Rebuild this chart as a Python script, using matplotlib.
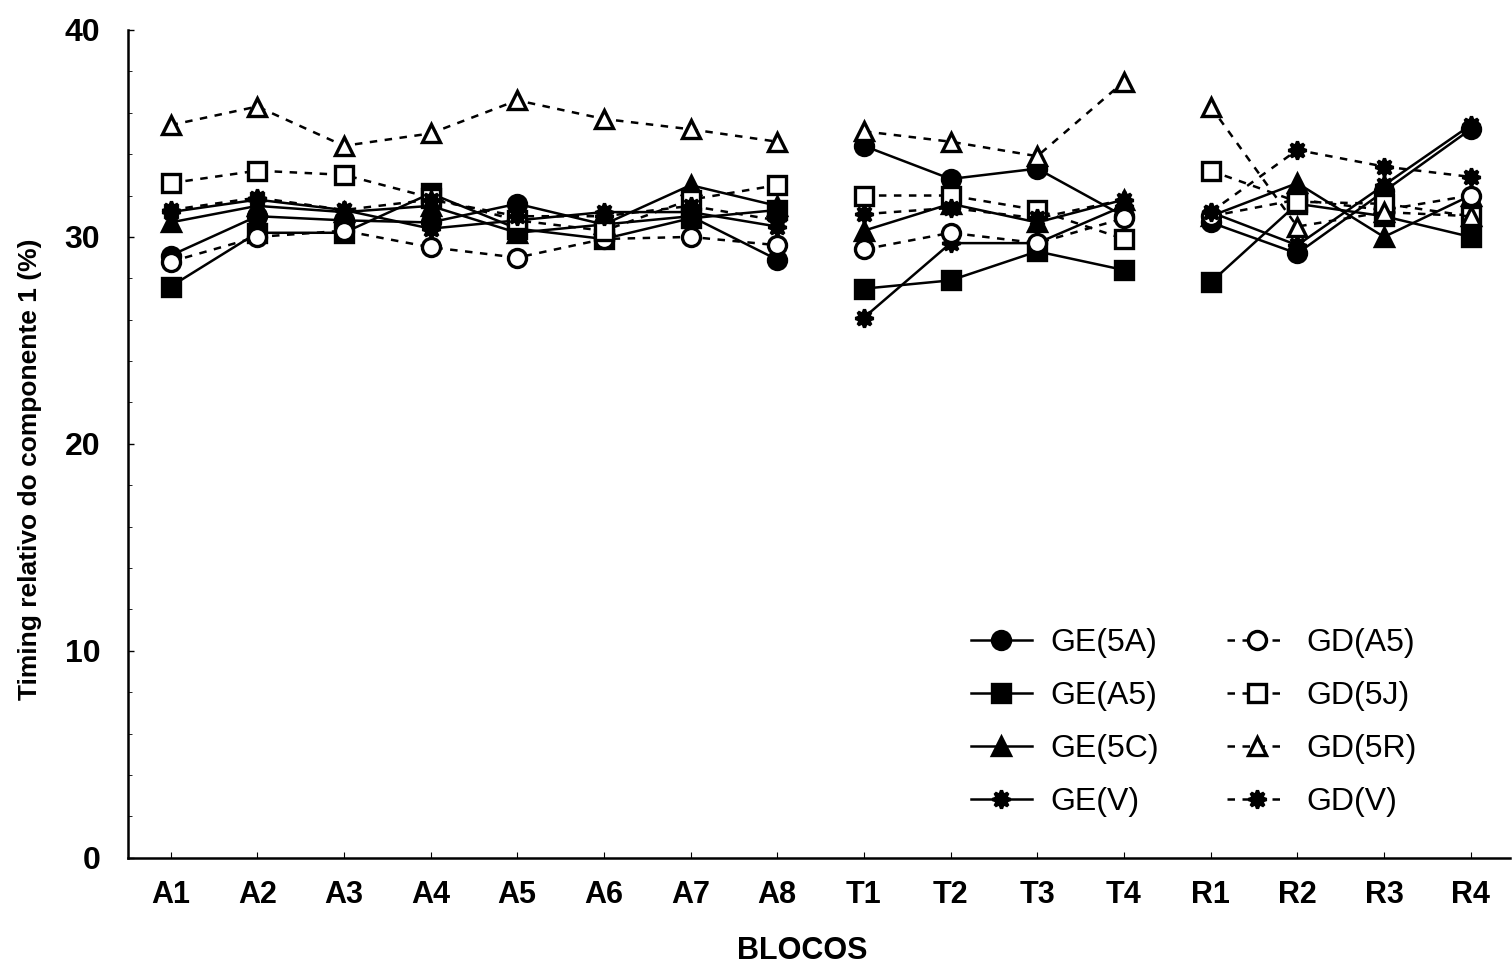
import numpy as np
import matplotlib
matplotlib.use("Agg")
from matplotlib import pyplot as plt

blocos = ['A1','A2','A3','A4','A5','A6','A7','A8',
          'T1','T2','T3','T4','R1','R2','R3','R4']

# series values, A1..A8, T1..T4, R1..R4
ge_5a = [29.1, 31.0, 30.8, 30.7, 31.6, 30.6, 31.0, 28.9,
         34.4, 32.8, 33.3, 31.0, 30.7, 29.2, 32.2, 35.2]
ge_a5 = [27.6, 30.2, 30.2, 32.1, 30.4, 29.9, 30.9, 31.3,
         27.5, 27.9, 29.3, 28.4, 27.8, 31.6, 31.0, 30.0]
ge_5c = [30.7, 31.5, 31.2, 31.5, 30.2, 30.6, 32.5, 31.5,
         30.3, 31.6, 30.7, 31.8, 31.0, 32.6, 30.0, 32.0]
ge_v  = [31.2, 31.8, 31.3, 30.4, 30.8, 31.2, 31.2, 30.5,
         26.1, 29.7, 29.7, 31.5, 31.2, 29.6, 32.5, 35.4]
gd_a5 = [28.8, 30.0, 30.3, 29.5, 29.0, 29.9, 30.0, 29.6,
         29.4, 30.2, 29.7, 30.9, 31.0, 31.8, 31.3, 32.0]
gd_5j = [32.6, 33.2, 33.0, 31.9, 30.8, 30.3, 31.8, 32.5,
         32.0, 32.0, 31.3, 29.9, 33.2, 31.7, 31.6, 31.0]
gd_5r = [35.4, 36.3, 34.4, 35.0, 36.6, 35.7, 35.2, 34.6,
         35.1, 34.6, 33.9, 37.5, 36.3, 30.5, 31.2, 31.0]
gd_v  = [31.3, 31.9, 31.3, 31.8, 31.0, 31.0, 31.5, 30.8,
         31.1, 31.4, 30.9, 31.8, 31.2, 34.2, 33.4, 32.9]

groups = [(0, 8), (8, 12), (12, 16)]

series = [
    ('GE(5A)', ge_5a, 'o', 'k', '-'),
    ('GE(A5)', ge_a5, 's', 'k', '-'),
    ('GE(5C)', ge_5c, '^', 'k', '-'),
    ('GE(V)', ge_v, (8, 1, 0), 'k', '-'),
    ('GD(A5)', gd_a5, 'o', 'w', (0, (3, 3))),
    ('GD(5J)', gd_5j, 's', 'w', (0, (3, 3))),
    ('GD(5R)', gd_5r, '^', 'w', (0, (3, 3))),
    ('GD(V)', gd_v, (8, 1, 0), 'k', (0, (3, 3))),
]

plt.rcParams['font.family'] = ['Liberation Sans', 'DejaVu Sans']

fig = plt.figure(figsize=(15.12, 9.66), dpi=100)
ax = fig.add_axes([0.0847, 0.112, 0.9143, 0.857])

x = np.arange(len(blocos))
handles = []
for name, vals, mk, fc, ls in series:
    vals = np.array(vals)
    for a, b in groups:
        ln, = ax.plot(x[a:b], vals[a:b], linestyle=ls, color='k', lw=1.8,
                      marker=mk, markersize=13, markerfacecolor=fc,
                      markeredgecolor='k', markeredgewidth=2.4)
    handles.append(ln)

ax.set_xlim(-0.49, 15.46)
ax.set_ylim(0, 40)
ax.set_xticks(x)
ax.set_xticklabels(blocos, fontsize=22, fontweight='bold')
ax.set_yticks([0, 10, 20, 30, 40])
ax.set_yticks(np.arange(0, 41, 2), minor=True)
ax.tick_params(axis='y', labelsize=23, direction='in', length=4, width=1, pad=20)
ax.tick_params(axis='y', which='minor', direction='in', length=3)
ax.tick_params(axis='x', direction='in', length=4, pad=16)
for lab in ax.get_yticklabels():
    lab.set_fontweight('bold')
ax.spines['top'].set_visible(False)
ax.spines['right'].set_visible(False)
ax.spines['left'].set_linewidth(1.8)
ax.spines['bottom'].set_linewidth(1.8)

ax.set_xlabel('BLOCOS', fontsize=22, fontweight='bold')
ax.xaxis.set_label_coords(0.488, -0.095)
ax.set_ylabel('Timing relativo do componente 1 (%)', fontsize=19,
              fontweight='bold')
ax.yaxis.set_label_coords(-0.062, 0.469)

fig.legend(handles, [s[0] for s in series], ncol=2, frameon=False,
           fontsize=23, loc='upper left',
           bbox_to_anchor=(955 / 1512, 1 - 612 / 966), borderpad=0,
           handlelength=1.9, labelspacing=0.72, columnspacing=2.1,
           handletextpad=0.6)

fig.savefig('out.png', dpi=100)
